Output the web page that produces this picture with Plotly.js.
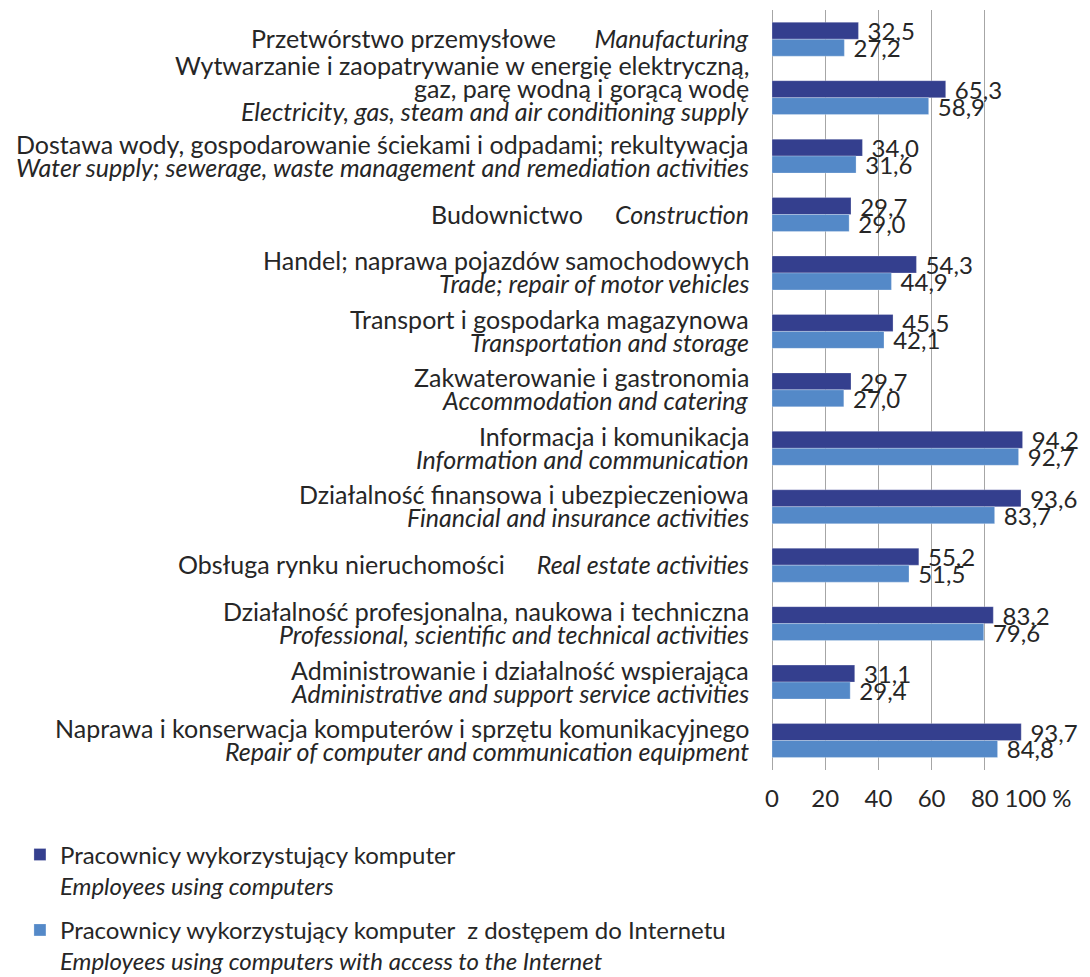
<!DOCTYPE html>
<html>
<head>
<meta charset="utf-8">
<script src="https://cdn.plot.ly/plotly-3.0.1.min.js"></script>
<style>html,body{margin:0;padding:0;background:#fff;}#chart{width:1090px;height:977px;}</style>
</head>
<body>
<div id="chart"></div>
<script>
var NB = "\u00a0";
// category keys (English names) used on the y axis
var categories = [
  "Manufacturing",
  "Electricity, gas, steam and air conditioning supply",
  "Water supply; sewerage, waste management and remediation activities",
  "Construction",
  "Trade; repair of motor vehicles",
  "Transportation and storage",
  "Accommodation and catering",
  "Information and communication",
  "Financial and insurance activities",
  "Real estate activities",
  "Professional, scientific and technical activities",
  "Administrative and support service activities",
  "Repair of computer and communication equipment"
];
// category label lines as shown in the chart (Polish / English)
var categoryLabelLines = [
  ["Przetwórstwo przemysłowe" + NB.repeat(6) + "<i>Manufacturing</i>"],
  ["Wytwarzanie i zaopatrywanie w energię elektryczną,", "gaz, parę wodną i gorącą wodę", "<i>Electricity, gas, steam and air conditioning supply</i>"],
  ["Dostawa wody, gospodarowanie ściekami i odpadami; rekultywacja", "<i>Water supply; sewerage, waste management and remediation activities</i>"],
  ["Budownictwo" + NB.repeat(5) + "<i>Construction</i>"],
  ["Handel; naprawa pojazdów samochodowych", "<i>Trade; repair of motor vehicles</i>"],
  ["Transport i gospodarka magazynowa", "<i>Transportation and storage</i>"],
  ["Zakwaterowanie i gastronomia", "<i>Accommodation and catering</i>"],
  ["Informacja i komunikacja", "<i>Information and communication</i>"],
  ["Działalność finansowa i ubezpieczeniowa", "<i>Financial and insurance activities</i>"],
  ["Obsługa rynku nieruchomości" + NB.repeat(5) + "<i>Real estate activities</i>"],
  ["Działalność profesjonalna, naukowa i techniczna", "<i>Professional, scientific and technical activities</i>"],
  ["Administrowanie i działalność wspierająca", "<i>Administrative and support service activities</i>"],
  ["Naprawa i konserwacja komputerów i sprzętu komunikacyjnego", "<i>Repair of computer and communication equipment</i>"]
];
var usingComputers = [32.5, 65.3, 34.0, 29.7, 54.3, 45.5, 29.7, 94.2, 93.6, 55.2, 83.2, 31.1, 93.7];
var usingInternet  = [27.2, 58.9, 31.6, 29.0, 44.9, 42.1, 27.0, 92.7, 83.7, 51.5, 79.6, 29.4, 84.8];
var seriesNames = [
  "Pracownicy wykorzystujący komputer<br><i>Employees using computers</i>",
  "Pracownicy wykorzystujący komputer" + NB + " z dostępem do Internetu<br><i>Employees using computers with access to the Internet</i>"
];
var xTickVals = [0, 20, 40, 60, 80, 100];
var xTickText = ["0", "20", "40", "60", "80", "100 %"];

var FONT = "Lato, Open Sans, sans-serif";
var TXT = "#262626";
var LABEL_SIZE = 25;
var LINE_GAP = 23;

function barTrace(vals, name, color, group) {
  return {
    type: "bar", orientation: "h",
    y: categories, x: vals, name: name, legendgroup: group,
    marker: {color: color, line: {color: "rgba(255,255,255,0.5)", width: 0.5}},
    texttemplate: NB + "%{x:.1f}", textposition: "outside",
    constraintext: "none", cliponaxis: false,
    textfont: {family: FONT, size: 24, color: TXT},
    hoverinfo: "x+y"
  };
}

var data = [
  barTrace(usingComputers, seriesNames[0], "#343F8E", "a"),
  barTrace(usingInternet, seriesNames[1], "#5489C8", "b")
];

var annotations = [];
categoryLabelLines.forEach(function (lines, i) {
  var n = lines.length;
  var extra = n === 3 ? -9 : 0;
  lines.forEach(function (line, j) {
    var off = (j - (n - 1) / 2) * LINE_GAP + extra;
    annotations.push({
      xref: "paper", x: 0, xanchor: "right", xshift: -21,
      yref: "y", y: categories[i], yanchor: "middle", yshift: -off + 1,
      text: line, showarrow: false, align: "right",
      font: {family: FONT, size: LABEL_SIZE, color: TXT}
    });
  });
});

var layout = {
  width: 1090, height: 977,
  margin: {l: 772, r: 52, t: 10, b: 207},
  paper_bgcolor: "#fff", plot_bgcolor: "#fff",
  separators: ", ",
  barmode: "group", bargap: 0.42, bargroupgap: 0,
  font: {family: FONT, size: 23, color: TXT},
  xaxis: {
    range: [0, 100], tickvals: xTickVals, ticktext: xTickText,
    showgrid: true, gridcolor: "#A6A6A6", gridwidth: 1,
    zeroline: true, zerolinecolor: "#A6A6A6", zerolinewidth: 1,
    showline: false, ticks: "outside", ticklen: 7, tickcolor: "rgba(0,0,0,0)",
    tickfont: {family: FONT, size: 24, color: TXT},
    fixedrange: true
  },
  yaxis: {
    type: "category", autorange: "reversed",
    showgrid: false, zeroline: false, showline: false,
    showticklabels: false, ticks: "",
    fixedrange: true
  },
  annotations: annotations,
  showlegend: true,
  legend: {
    xref: "container", yref: "container",
    x: 0.0183, y: 0.148, xanchor: "left", yanchor: "top",
    traceorder: "grouped", tracegroupgap: 10, valign: "top",
    font: {family: FONT, size: 24, color: TXT},
    bgcolor: "rgba(0,0,0,0)"
  }
};

Plotly.newPlot("chart", data, layout, {displayModeBar: false, staticPlot: true});
</script>
</body>
</html>
